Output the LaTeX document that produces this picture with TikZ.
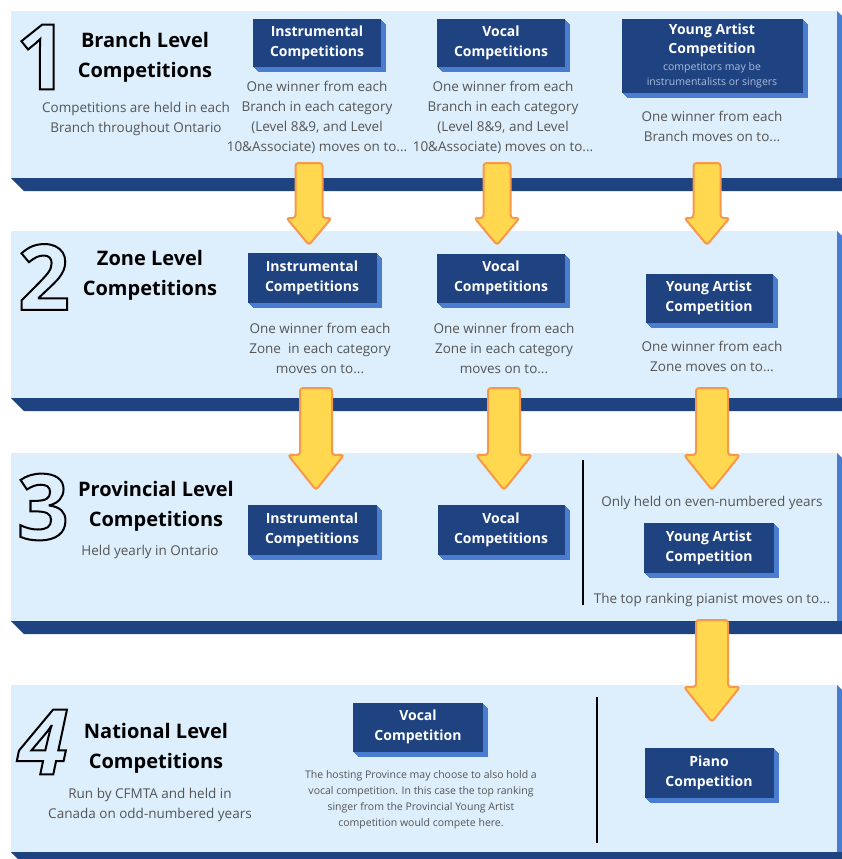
\documentclass[tikz,border=0pt]{standalone}
\usepackage{fontspec}
\setmainfont{Open Sans}
\usetikzlibrary{calc,shadows}
\definecolor{cmnavy}{HTML}{1F4381}
\definecolor{cmside}{HTML}{4A7CCF}
\definecolor{cmpale}{HTML}{DDEEFC}
\definecolor{cmgrey}{HTML}{555555}
\definecolor{cmnote}{HTML}{A9BBDD}
\definecolor{cmyellow}{HTML}{FFD84F}
\definecolor{cmorange}{HTML}{F7984A}

% outlined numerals (stroke only)
\newcommand{\outlined}[1]{\special{pdf:literal direct 1 Tr 2 w}#1\special{pdf:literal direct 0 Tr}}
\newcommand{\notefont}{\fontsize{10.5}{14}\selectfont\mdseries\color{cmnote}}

% fat down arrow: start, tip, shaft half width, head half width, head length
\newcommand{\blockarrow}[5]{%
  \draw[flowarrow] let \p1=(#1), \p2=(#2) in
    (\x1-#3,\y1) -- (\x1+#3,\y1) -- (\x1+#3,\y2+#5) -- (\x1+#4,\y2+#5)
    -- (\x2,\y2) -- (\x1-#4,\y2+#5) -- (\x1-#3,\y2+#5) -- cycle;}

\tikzset{
  compbox/.style={fill=cmnavy, text=white, align=center, inner sep=0pt,
    font=\fontsize{14}{20}\selectfont\bfseries,
    copy shadow={shadow xshift=1pt, shadow yshift=-1pt, fill=cmside, draw=none},
    copy shadow={shadow xshift=2pt, shadow yshift=-2pt, fill=cmside, draw=none},
    copy shadow={shadow xshift=3pt, shadow yshift=-3pt, fill=cmside, draw=none},
    copy shadow={shadow xshift=4pt, shadow yshift=-4pt, fill=cmside, draw=none},
    copy shadow={shadow xshift=5pt, shadow yshift=-5pt, fill=cmside, draw=none}},
  leveltitle/.style={align=center, text=black, font=\fontsize{20}{30}\selectfont\bfseries},
  desc/.style={align=center, text=cmgrey, font=\fontsize{13.5}{20}\selectfont},
  smalldesc/.style={align=center, text=cmgrey, font=\fontsize{10.5}{16}\selectfont},
  bignum/.style={inner sep=0pt, text=black, font=\fontsize{91}{91}\selectfont\bfseries},
  flowarrow/.style={fill=cmyellow, draw=cmorange, line width=2pt, rounded corners=3pt},
  divider/.style={line width=2.5pt, black}
}

\begin{document}
\begin{tikzpicture}[x=1pt,y=-1pt]
\clip (0,0) rectangle (842,859);
\fill[white] (0,0) rectangle (842,859);

% Level panels
\foreach \ytop/\ybot in {11/178, 231/398, 453/621, 685/852} {
    \fill[cmpale] (11,\ytop) rectangle (837,\ybot);
    \fill[cmside] (837,\ytop) -- (842,\ytop+5) -- (842,\ybot) -- (837,\ybot) -- cycle;
    \fill[cmnavy] (11,\ybot) -- (842,\ybot) -- (842,\ybot+13) -- (24,\ybot+13) -- cycle;
}

% Level 1
\node[bignum] (n1) at (42,57) {\outlined{1}};
\node[leveltitle] (t1) at (145,57) {Branch Level\\Competitions};
\node[desc] (d1) at (136,119) {Competitions are held in each\\Branch throughout Ontario};
\node[compbox, minimum width=128, minimum height=48] (inst1) at (317,43) {Instrumental\\Competitions};
\node[compbox, minimum width=128, minimum height=48] (voc1) at (501,43) {Vocal\\Competitions};
\node[compbox, minimum width=181, minimum height=74] (ya1) at (712,56)
    {Young Artist\\[-1pt]Competition\\[-3pt]\notefont competitors may be\\[-5pt]\notefont instrumentalists or singers};
\node[desc] (inst1d) at (317,117) {One winner from each\\Branch in each category\\(Level 8\&9, and Level\\10\&Associate) moves on to...};
\node[desc] (voc1d) at (503,117) {One winner from each\\Branch in each category\\(Level 8\&9, and Level\\10\&Associate) moves on to...};
\node[desc] (ya1d) at (712,126) {One winner from each\\Branch moves on to...};

% Level 2
\node[bignum] (n2) at (44,277) {\outlined{2}};
\node[leveltitle] (t2) at (150,275) {Zone Level\\Competitions};
\node[compbox, minimum width=129, minimum height=50] (inst2) at (312,278) {Instrumental\\Competitions};
\node[compbox, minimum width=128, minimum height=49] (voc2) at (501,278) {Vocal\\Competitions};
\node[compbox, minimum width=127, minimum height=49] (ya2) at (709,298) {Young Artist\\Competition};
\node[desc] (inst2d) at (320,348) {One winner from each\\Zone\ \ in each category\\moves on to...};
\node[desc] (voc2d) at (504,348) {One winner from each\\Zone in each category\\moves on to...};
\node[desc] (ya2d) at (712,356) {One winner from each\\Zone moves on to...};

% Level 3
\node[bignum] (n3) at (43,507) {\outlined{3}};
\node[leveltitle] (t3) at (156,506) {Provincial Level\\Competitions};
\node[desc] (d3) at (150,552) {Held yearly in Ontario};
\node[compbox, minimum width=129, minimum height=50] (inst3) at (312,530) {Instrumental\\Competitions};
\node[compbox, minimum width=127, minimum height=50] (voc3) at (501,530) {Vocal\\Competitions};
\node[compbox, minimum width=130, minimum height=50] (ya3) at (709,548) {Young Artist\\Competition};
\node[desc] (even3) at (712,503) {Only held on even-numbered years};
\node[desc] (top3) at (712,600) {The top ranking pianist moves on to...};
\draw[divider] (583,460) -- (583,605);

% Level 4
\node[bignum] (n4) at (43,742) {\itshape\outlined{4}};
\node[leveltitle] (t4) at (156,748) {National Level\\Competitions};
\node[desc] (d4) at (150,805) {Run by CFMTA and held in\\Canada on odd-numbered years};
\node[compbox, minimum width=130, minimum height=49] (voc4) at (418,727) {Vocal\\Competition};
\node[compbox, minimum width=129, minimum height=50] (piano4) at (709,773) {Piano\\Competition};
\node[smalldesc] (voc4d) at (421,800) {The hosting Province may choose to also hold a\\vocal competition. In this case the top ranking\\singer from the Provincial Young Artist\\competition would compete here.};
\draw[divider] (597,697) -- (597,843);

% Arrows between levels
\coordinate (a1s) at (309,163); \coordinate (a1e) at (309,245);
\coordinate (a2s) at (497,163); \coordinate (a2e) at (497,245);
\coordinate (a3s) at (707,163); \coordinate (a3e) at (707,245);
\coordinate (b1s) at (316,388); \coordinate (b1e) at (316,490);
\coordinate (b2s) at (504,388); \coordinate (b2e) at (504,490);
\coordinate (b3s) at (712,388); \coordinate (b3e) at (712,490);
\coordinate (c3s) at (712,620); \coordinate (c3e) at (712,722);
\foreach \s/\e in {a1s/a1e, a2s/a2e, a3s/a3e} {
    \blockarrow{\s}{\e}{13.5}{22.5}{27}
}
\foreach \s/\e in {b1s/b1e, b2s/b2e, b3s/b3e, c3s/c3e} {
    \blockarrow{\s}{\e}{16}{28}{35}
}
\end{tikzpicture}
\end{document}
